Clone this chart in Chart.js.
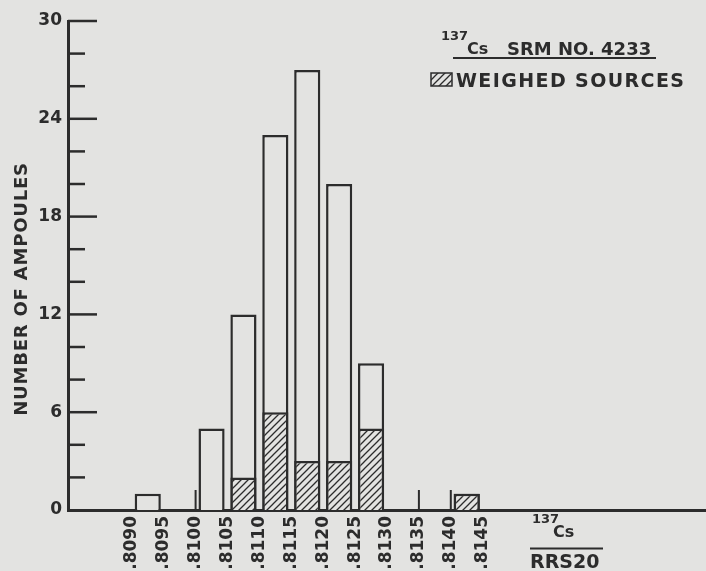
<!DOCTYPE html>
<html><head><meta charset="utf-8">
<script src="https://cdn.jsdelivr.net/npm/chart.js@4.4.1/dist/chart.umd.min.js"></script>
<style>html,body{margin:0;padding:0;background:#e3e3e1;}</style>
</head><body>
<canvas id="c" width="706" height="571"></canvas>
<script>
// ---- data ----
const binEdgeLabels = ['.8090','.8095','.8100','.8105','.8110','.8115','.8120','.8125','.8130','.8135','.8140','.8145'];
const totalAmpoules = [1, 0, 5, 12, 23, 27, 20, 9, 0, 0, 1];
const weighedSources = [0, 0, 0, 2, 6, 3, 3, 5, 0, 0, 1];
const yTickLabels = ['0','6','12','18','24','30'];
const yAxisTitle = 'NUMBER OF AMPOULES';
const legendIsotope = '137';
const legendElement = 'Cs';
const legendTitleRest = 'SRM NO. 4233';
const legendLabel = 'WEIGHED SOURCES';
const xTitleNumerator = ['137', 'Cs'];
const xTitleDenominator = 'RRS20';

const BG = '#e3e3e1';
const INK = '#2c2c2c';
const FONT = '"DejaVu Sans", sans-serif';

const edgeValues = binEdgeLabels.map(s => parseFloat('0' + s));
const binCenters = totalAmpoules.map((_, i) => (edgeValues[i] + edgeValues[i + 1]) / 2);

function hatchPattern() {
  const n = 7;
  const p = document.createElement('canvas');
  p.width = n; p.height = n;
  const g = p.getContext('2d');
  g.fillStyle = BG; g.fillRect(0, 0, n, n);
  g.strokeStyle = INK; g.lineWidth = 1.3;
  g.beginPath();
  g.moveTo(-1, n + 1); g.lineTo(n + 1, -1);
  g.moveTo(-1, 1); g.lineTo(1, -1);
  g.moveTo(n - 1, n + 1); g.lineTo(n + 1, n - 1);
  g.stroke();
  return g.createPattern(p, 'repeat');
}
const HATCH = hatchPattern();

const decor = {
  id: 'decor',
  beforeDraw(chart) {
    const ctx = chart.ctx;
    ctx.save();
    ctx.fillStyle = BG;
    ctx.fillRect(0, 0, chart.width, chart.height);
    ctx.restore();
  },
  afterDatasetsDraw(chart) {
    const ctx = chart.ctx, xs = chart.scales.x, ys = chart.scales.y;
    const left = chart.chartArea.left, y0 = ys.getPixelForValue(0);
    ctx.save();
    ctx.strokeStyle = INK;
    ctx.lineCap = 'butt';
    // inward y ticks: major every 6, minor every 2
    for (let v = 2; v <= 30; v += 2) {
      const len = (v % 6 === 0) ? 29 : 17;
      const y = ys.getPixelForValue(v);
      ctx.lineWidth = 2.5;
      ctx.beginPath(); ctx.moveTo(left, y); ctx.lineTo(left + len, y); ctx.stroke();
    }
    // upward x ticks at bin edges that follow an empty bin
    edgeValues.forEach((e, i) => {
      if (i > 0 && totalAmpoules[i - 1] === 0) {
        const x = xs.getPixelForValue(e);
        ctx.lineWidth = 2;
        ctx.beginPath(); ctx.moveTo(x, y0); ctx.lineTo(x, y0 - 20); ctx.stroke();
      }
    });
    ctx.restore();
  },
  afterDraw(chart) {
    const ctx = chart.ctx;
    ctx.save();
    ctx.fillStyle = INK; ctx.strokeStyle = INK;
    ctx.textBaseline = 'alphabetic'; ctx.textAlign = 'left';
    // y axis title
    ctx.save();
    ctx.translate(22, 289);
    ctx.rotate(-Math.PI / 2);
    ctx.textAlign = 'center'; ctx.textBaseline = 'middle';
    ctx.font = 'bold 18px ' + FONT;
    ctx.letterSpacing = '0.8px';
    ctx.fillText(yAxisTitle, 0, 0);
    ctx.restore();
    // legend title
    ctx.font = 'bold 13px ' + FONT;
    ctx.fillText(legendIsotope, 441, 40);
    ctx.font = 'bold 16px ' + FONT;
    ctx.fillText(legendElement, 467, 54);
    ctx.font = 'bold 18px ' + FONT;
    ctx.fillText(legendTitleRest, 507, 55);
    ctx.lineWidth = 2;
    ctx.beginPath(); ctx.moveTo(453, 58); ctx.lineTo(656, 58); ctx.stroke();
    // legend entry
    ctx.fillStyle = HATCH; ctx.fillRect(431, 73, 21, 13);
    ctx.lineWidth = 1.5; ctx.strokeRect(431, 73, 21, 13);
    ctx.fillStyle = INK;
    ctx.save();
    ctx.font = 'bold 19px ' + FONT;
    ctx.letterSpacing = '1.4px';
    ctx.fillText(legendLabel, 456, 87);
    ctx.restore();
    // x axis title (fraction)
    ctx.font = 'bold 13px ' + FONT;
    ctx.fillText(xTitleNumerator[0], 532, 523);
    ctx.font = 'bold 16px ' + FONT;
    ctx.fillText(xTitleNumerator[1], 553, 537);
    ctx.lineWidth = 2;
    ctx.beginPath(); ctx.moveTo(530, 548.5); ctx.lineTo(603, 548.5); ctx.stroke();
    ctx.font = 'bold 19px ' + FONT;
    ctx.fillText(xTitleDenominator, 530, 568);
    ctx.restore();
  }
};

new Chart(document.getElementById('c'), {
  type: 'bar',
  data: {
    datasets: [
      {
        label: legendLabel,
        data: binCenters.map((x, i) => ({ x, y: weighedSources[i] })),
        backgroundColor: HATCH,
        borderColor: INK,
        borderWidth: 2.5,
        grouped: false,
        barPercentage: 0.82,
        categoryPercentage: 1
      },
      {
        label: 'Total',
        data: binCenters.map((x, i) => ({ x, y: totalAmpoules[i] })),
        backgroundColor: BG,
        borderColor: INK,
        borderWidth: 2.5,
        grouped: false,
        barPercentage: 0.82,
        categoryPercentage: 1
      }
    ]
  },
  options: {
    responsive: false,
    animation: false,
    devicePixelRatio: 1,
    layout: { padding: { top: 21, left: 0, right: 0, bottom: 0 } },
    plugins: { legend: { display: false }, tooltip: { enabled: false } },
    scales: {
      x: {
        type: 'linear',
        offset: false,
        min: 0.8080,
        max: 0.8180,
        grid: { display: false, drawTicks: false, offset: false },
        border: { display: true, color: INK, width: 3 },
        afterFit: s => { s.height = 61; s.paddingRight = 0; s.paddingLeft = 0; },
        ticks: {
          stepSize: 0.0005,
          autoSkip: false,
          minRotation: 90,
          maxRotation: 90,
          padding: 6,
          color: INK,
          font: { family: FONT, size: 17, weight: 'bold' },
          callback: (v) => {
            const s = Number(v).toFixed(4).slice(1);
            return binEdgeLabels.includes(s) ? s : '';
          }
        }
      },
      y: {
        min: 0,
        max: 30,
        grid: { display: false, drawTicks: false },
        border: { display: true, color: INK, width: 3 },
        afterFit: s => { s.width = 68; },
        ticks: {
          stepSize: 6,
          padding: 6,
          color: INK,
          font: { family: FONT, size: 17, weight: 'bold' },
          callback: (v) => yTickLabels.includes(String(v)) ? String(v) : ''
        }
      }
    }
  },
  plugins: [decor]
});
</script>
</body></html>
